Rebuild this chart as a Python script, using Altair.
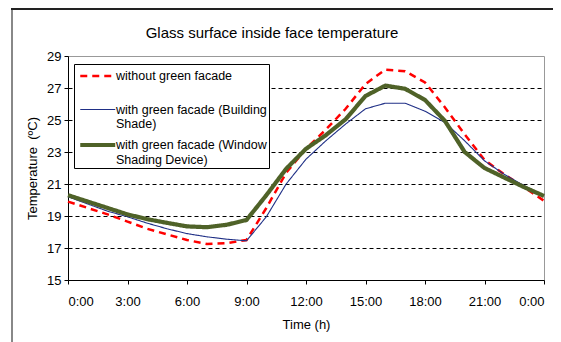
import json
import altair as alt
import pandas as pd

# ---- data ----
hours = list(range(25))
series_names = [
    "without green facade",
    "with green facade (Building Shade)",
    "with green facade (Window Shading Device)",
]
legend_lines = [
    ["without green facade"],
    ["with green facade (Building", "Shade)"],
    ["with green facade (Window", "Shading Device)"],
]
without_gf = [19.9, 19.5, 19.1, 18.65, 18.2, 17.85, 17.5, 17.25, 17.3, 17.5,
              19.5, 21.7, 23.2, 24.4, 25.7, 27.25, 28.15, 28.05, 27.35, 25.8,
              24.1, 22.5, 21.6, 20.8, 19.95]
building_shade = [20.2, 19.75, 19.3, 18.95, 18.55, 18.2, 17.9, 17.7, 17.55, 17.45,
                  18.95, 21.0, 22.55, 23.7, 24.75, 25.7, 26.05, 26.05, 25.55, 24.85,
                  23.7, 22.45, 21.6, 20.9, 20.25]
window_shading = [20.3, 19.9, 19.5, 19.1, 18.8, 18.57, 18.35, 18.3, 18.45, 18.75,
                  20.3, 21.95, 23.2, 24.05, 25.05, 26.5, 27.15, 26.95, 26.25, 24.95,
                  23.0, 22.0, 21.4, 20.8, 20.25]
y_ticks = [15, 17, 19, 21, 23, 25, 27, 29]
x_ticks = [0, 3, 6, 9, 12, 15, 18, 21, 24]

colors = ["#FF0000", "#1F2F86", "#4F6228"]
dashes = [[7, 5], [1, 0], [1, 0]]
widths = [2.5, 1.1, 4.2]

rows = []
for name, vals in zip(series_names, [without_gf, building_shade, window_shading]):
    for h, v in zip(hours, vals):
        rows.append({"hour": h, "temp": v, "series": name})
df = pd.DataFrame(rows)

label_expr = " : ".join(
    f"datum.label == '{n}' ? {json.dumps(l)}" for n, l in zip(series_names, legend_lines)
) + " : datum.label"

FONT = "Liberation Sans"
leg = alt.Legend(title=None, labelExpr=label_expr)

lines = alt.Chart(df).mark_line(clip=False).encode(
    x=alt.X("hour:Q",
            scale=alt.Scale(domain=[0, 24], nice=False, zero=False),
            axis=alt.Axis(values=x_ticks, labelExpr="(datum.value % 24) + ':00'",
                          title="Time (h)", grid=False)),
    y=alt.Y("temp:Q",
            scale=alt.Scale(domain=[15, 29], nice=False, zero=False),
            axis=alt.Axis(values=y_ticks, title="Temperature\u00a0 (ºC)", grid=True,
                          gridDash=[4, 3], gridColor="black",
                          gridOpacity={"expr": "datum.value == 29 || datum.value == 15 ? 0 : 1"})),
    color=alt.Color("series:N", scale=alt.Scale(domain=series_names, range=colors), legend=leg),
    strokeDash=alt.StrokeDash("series:N", scale=alt.Scale(domain=series_names, range=dashes),
                              legend=leg),
    strokeWidth=alt.StrokeWidth("series:N",
                                scale=alt.Scale(type="ordinal", domain=series_names, range=widths),
                                legend=leg),
    order=alt.Order("series:N"),
)

# decorative outer frame of the figure (left and top edges)
frame_left = alt.Chart().mark_rule(color="#888888", strokeWidth=2).encode(
    x=alt.value(-56), y=alt.value(-47), y2=alt.value(300))
frame_top = alt.Chart().mark_rule(color="#222222", strokeWidth=2).encode(
    x=alt.value(-57), x2=alt.value(500), y=alt.value(-47))

chart = alt.layer(lines, frame_left, frame_top).properties(
    width=476, height=224,
    title=alt.TitleParams("Glass surface inside face temperature", font=FONT,
                          fontSize=15, fontWeight="normal", color="black",
                          anchor="middle", frame="group", dx=-34, offset=-33),
    autosize=alt.AutoSizeParams(type="none"),
    padding={"left": 60, "top": 48, "right": 9, "bottom": 62},
).configure_view(
    stroke="#999999", strokeWidth=1
).configure_axis(
    labelFont=FONT, labelFontSize=13, labelColor="black",
    titleFont=FONT, titleFontSize=13, titleFontWeight="normal", titleColor="black",
    domainColor="black", tickColor="black", tickSize=4,
).configure_axisX(
    labelPadding=11, titlePadding=10,
).configure_axisY(
    labelPadding=3, titlePadding=7,
).configure_legend(
    orient="none", legendX=6, legendY=8,
    symbolType="M-1,0H3", symbolSize=306, symbolOffset=2,
    labelFont=FONT, labelFontSize=12.5, labelColor="black", labelLimit=0,
    labelBaseline="middle", labelOffset=16,
    strokeColor="black", fillColor="white", padding=2,
    gridAlign="all", rowPadding=2,
)

chart.save("out.html", embed_options={"renderer": "svg", "actions": False})
